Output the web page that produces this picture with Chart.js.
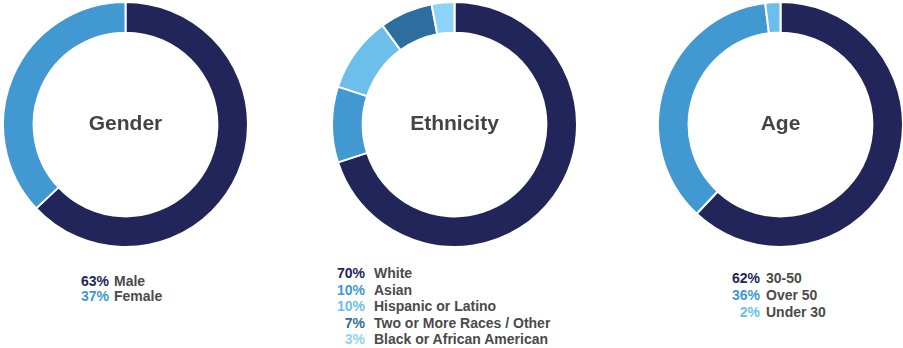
<!DOCTYPE html>
<html>
<head>
<meta charset="utf-8">
<script src="https://cdn.jsdelivr.net/npm/chart.js@4.4.1/dist/chart.umd.min.js"></script>
<style>
  html, body { margin: 0; padding: 0; background: #fff; overflow: hidden; }
  body { width: 903px; height: 348px; position: relative; font-family: "Liberation Sans", Arial, sans-serif; }
  canvas { position: absolute; }
  .title { position: absolute; width: 200px; text-align: center; font-size: 21px; line-height: 24px; font-weight: bold; color: #444; }
  .row { position: absolute; font-size: 14px; line-height: 16px; font-weight: bold; white-space: nowrap; }
  .pct { position: absolute; text-align: right; width: 60px; }
  .lbl { position: absolute; color: #4a4a4a; }
</style>
</head>
<body>
<canvas id="genderChart" width="247" height="247" style="left:2px;top:1px"></canvas>
<canvas id="ethnicityChart" width="247" height="247" style="left:331px;top:1px"></canvas>
<canvas id="ageChart" width="247" height="247" style="left:657px;top:1px"></canvas>
<div id="texts"></div>
<script>
const genderLabels = ['Male', 'Female']
const genderValues = [63, 37]
const genderColors = ['#22255a', '#4298d1']

const ethnicityLabels = ['White', 'Asian', 'Hispanic or Latino', 'Two or More Races / Other', 'Black or African American']
const ethnicityValues = [70, 10, 10, 7, 3]
const ethnicityColors = ['#22255a', '#4298d1', '#6dbfeb', '#2d6e9e', '#8dd3f7']

const ageLabels = ['30-50', 'Over 50', 'Under 30']
const ageValues = [62, 36, 2]
const ageColors = ['#22255a', '#4298d1', '#6dbfeb']

const charts = [
    { id: 'genderChart', title: 'Gender', cx: 125.5, labels: genderLabels, values: genderValues, colors: genderColors,
      pctRight: 109, gap: 5, top: 273, step: 15 },
    { id: 'ethnicityChart', title: 'Ethnicity', cx: 454.5, labels: ethnicityLabels, values: ethnicityValues, colors: ethnicityColors,
      pctRight: 365, gap: 9, top: 265, step: 16.5 },
    { id: 'ageChart', title: 'Age', cx: 780.5, labels: ageLabels, values: ageValues, colors: ageColors,
      pctRight: 760, gap: 6, top: 270, step: 17 }
]

const texts = document.getElementById('texts')

charts.forEach(c => {
    new Chart(document.getElementById(c.id).getContext('2d'), {
        type: 'doughnut',
        data: {
            labels: c.labels,
            datasets: [{
                data: c.values,
                backgroundColor: c.colors,
                borderColor: '#ffffff',
                borderWidth: 2
            }]
        },
        options: {
            responsive: false,
            animation: false,
            cutout: '75%',
            layout: { padding: 0 },
            plugins: {
                legend: { display: false },
                tooltip: { enabled: false }
            }
        }
    })

    const title = document.createElement('div')
    title.className = 'title'
    title.textContent = c.title
    title.style.left = (c.cx - 100) + 'px'
    title.style.top = '111px'
    texts.appendChild(title)

    c.labels.forEach((label, i) => {
        const row = document.createElement('div')
        row.className = 'row'
        row.style.top = (c.top + i * c.step) + 'px'
        row.style.left = '0px'
        const pct = document.createElement('span')
        pct.className = 'pct'
        pct.style.left = (c.pctRight - 60) + 'px'
        pct.style.color = c.colors[i]
        pct.textContent = c.values[i] + '%'
        const lbl = document.createElement('span')
        lbl.className = 'lbl'
        lbl.style.left = (c.pctRight + c.gap) + 'px'
        lbl.textContent = label
        row.appendChild(pct)
        row.appendChild(lbl)
        texts.appendChild(row)
    })
})
</script>
</body>
</html>
